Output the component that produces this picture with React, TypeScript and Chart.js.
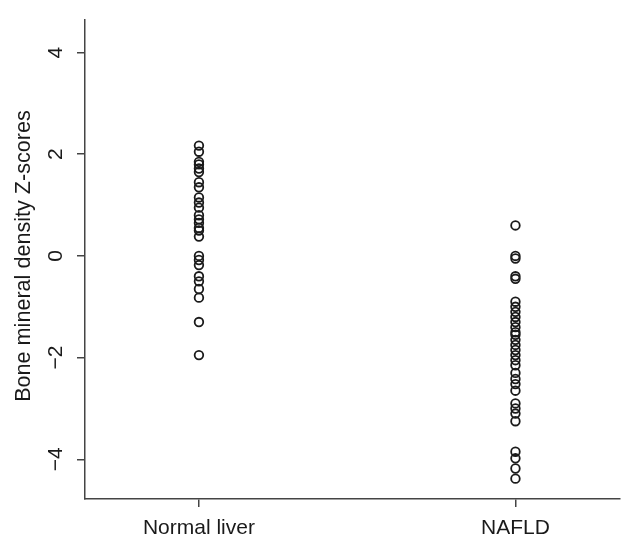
import React, { useEffect, useRef } from "react";
import { Chart, registerables } from "chart.js";

Chart.register(...registerables);

const categories = ["Normal liver", "NAFLD"];
const normalLiver = [2.17, 2.05, 1.85, 1.8, 1.72, 1.65, 1.45, 1.35, 1.15, 1.05, 0.95, 0.8, 0.72, 0.65, 0.55, 0.5, 0.38, 0, -0.08, -0.18, -0.4, -0.5, -0.65, -0.82, -1.3, -1.95];
const nafld = [0.6, 0, -0.05, -0.4, -0.45, -0.9, -1.0, -1.1, -1.2, -1.3, -1.4, -1.5, -1.55, -1.65, -1.75, -1.85, -1.95, -2.05, -2.15, -2.3, -2.42, -2.52, -2.65, -2.9, -3.0, -3.1, -3.25, -3.85, -3.98, -4.18, -4.38];
const yTicks = [-4, -2, 0, 2, 4];
const yTitle = "Bone mineral density Z-scores";

const FONT = '"Liberation Sans", Arial, Helvetica, sans-serif';
const AXIS = "#444";
const TEXT = "#1a1a1a";

export default function App() {
  const ref = useRef<HTMLCanvasElement | null>(null);
  useEffect(() => {
    document.body.style.margin = "0";
    const canvas = ref.current!;
    const labelPlugin = {
      id: "yLabels",
      afterDraw(chart: any) {
        const ctx = chart.ctx;
        const ys = chart.scales.y;
        ctx.save();
        ctx.fillStyle = TEXT;
        ctx.font = `21px ${FONT}`;
        ctx.textAlign = "center";
        ctx.textBaseline = "middle";
        yTicks.forEach((v) => {
          const py = ys.getPixelForValue(v);
          ctx.save();
          ctx.translate(56, py);
          ctx.rotate(-Math.PI / 2);
          ctx.fillText(v < 0 ? "\u2212" + Math.abs(v) : String(v), 0, 0);
          ctx.restore();
        });
        ctx.font = `21.6px ${FONT}`;
        ctx.save();
        ctx.translate(24, 256);
        ctx.rotate(-Math.PI / 2);
        ctx.fillText(yTitle, 0, 0);
        ctx.restore();
        ctx.restore();
      },
    };
    const mk = (vals: number[], idx: number) => vals.map((v) => ({ x: idx + 1, y: v }));
    const ds = (vals: number[], idx: number) => ({
      data: mk(vals, idx),
      pointRadius: 4.3,
      pointBorderWidth: 1.8,
      borderColor: "#1a1a1a",
      backgroundColor: "rgba(0,0,0,0)",
      pointHoverRadius: 4.3,
    });
    const chart = new Chart(canvas, {
      type: "scatter",
      data: { datasets: [ds(normalLiver, 0), ds(nafld, 1)] },
      options: {
        responsive: false,
        animation: false,
        devicePixelRatio: 1,
        layout: { padding: { top: 20, right: 6, left: 0, bottom: 0 } },
        plugins: { legend: { display: false }, tooltip: { enabled: false } },
        scales: {
          x: {
            type: "linear",
            min: 0.64,
            max: 2.33,
            afterBuildTicks: (s: any) => {
              s.ticks = categories.map((_, i) => ({ value: i + 1 }));
            },
            afterFit: (s: any) => {
              s.height = 41;
            },
            ticks: {
              callback: (v: any) => categories[Math.round(Number(v)) - 1] ?? "",
              font: { family: FONT, size: 21 },
              color: TEXT,
              padding: 9,
              maxRotation: 0,
              minRotation: 0,
            },
            grid: { drawOnChartArea: false, drawTicks: true, tickLength: 8, color: AXIS, lineWidth: 1.5 },
            border: { display: true, color: AXIS, width: 1.5 },
          },
          y: {
            type: "linear",
            min: -4.78,
            max: 4.64,
            afterBuildTicks: (s: any) => {
              s.ticks = yTicks.map((v) => ({ value: v }));
            },
            afterFit: (s: any) => {
              s.width = 85;
            },
            ticks: { display: false },
            grid: { drawOnChartArea: false, drawTicks: true, tickLength: 8, color: AXIS, lineWidth: 1.5 },
            border: { display: true, color: AXIS, width: 1.5 },
          },
        },
      },
      plugins: [labelPlugin],
    });
    return () => chart.destroy();
  }, []);
  return (
    <div style={{ width: 626, height: 540, background: "#fff" }}>
      <canvas ref={ref} width={626} height={540} />
    </div>
  );
}
